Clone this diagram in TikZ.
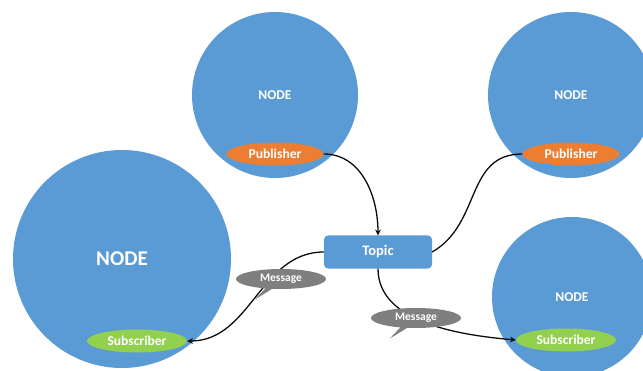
\documentclass[tikz,border=0pt]{standalone}
\usepackage{fontspec}
\setmainfont{Carlito}
\usepackage{xcolor}
\usepackage{tikz}
\usetikzlibrary{positioning,arrows.meta,shapes.geometric,shapes.callouts}
\definecolor{nodeblue}{HTML}{5B9BD5}
\definecolor{puborange}{HTML}{ED7D31}
\definecolor{subgreen}{HTML}{92D050}
\definecolor{msggray}{HTML}{7F7F7F}
\definecolor{ink}{gray}{0.05}
\tikzset{
  rosnode/.style={circle, fill=nodeblue, text=white, inner sep=0pt,
                  font=\fontsize{13.5}{14}\selectfont\bfseries},
  pubell/.style={ellipse, fill=puborange, text=white, inner sep=0pt,
                 minimum width=97pt, minimum height=23pt,
                 font=\fontsize{13.6}{14}\selectfont\bfseries},
  subell/.style={ellipse, fill=subgreen, text=white, inner sep=0pt,
                 minimum width=100pt, minimum height=23pt,
                 font=\fontsize{13.5}{14}\selectfont\bfseries},
  msg/.style={ellipse callout, fill=msggray, text=white, inner sep=0pt,
              minimum width=90pt, minimum height=20pt,
              callout relative pointer={(-14pt,-11pt)}, callout pointer arc=9,
              font=\fontsize{11.5}{12}\selectfont\bfseries},
  topicbox/.style={rectangle, rounded corners=4pt, fill=nodeblue, text=white,
                   minimum width=108pt, minimum height=33pt, inner sep=0pt,
                   font=\fontsize{14.5}{15}\selectfont\bfseries},
  flow/.style={-{Stealth[length=2mm,width=2mm]}, draw=ink, line width=1.3pt},
  link/.style={draw=ink, line width=1.3pt},
}
\begin{document}
\begin{tikzpicture}[x=1pt,y=1pt]
        \useasboundingbox[fill=white] (0,0) rectangle (643,370);
        \node[rosnode, minimum size=166pt] (na) at (275,275) {NODE};
        \node[rosnode, minimum size=166pt] (nb) at (571,275) {NODE};
        \node[rosnode, minimum size=218pt, font=\fontsize{21}{22}\selectfont\bfseries] (nc) at (122,111) {NODE};
        \node[rosnode, minimum size=160pt] (nd) at (572,73) {NODE};
        \node[pubell] (pa) at (275,216) {Publisher};
        \node[pubell] (pb) at (571,216) {Publisher};
        \node[subell] (sa) at (137,29) {Subscriber};
        \node[subell] (sb) at (566,30) {Subscriber};
        \node[topicbox] (t) at (378,118) {Topic};
        \draw[flow] (pa.east) to[out=0, in=90] (t.north);
        \draw[link] (t.east) to[out=30, in=180, looseness=1.1] (pb.west);
        \draw[flow] (t.west) to[out=180, in=0] (sa.east);
        \draw[flow] (t.south) to[out=-90, in=175, looseness=0.9] (sb.west);
        \node[msg] (ma) at (281,91) {Message};
        \node[msg] (mb) at (416,52) {Message};
      \end{tikzpicture}
\end{document}
